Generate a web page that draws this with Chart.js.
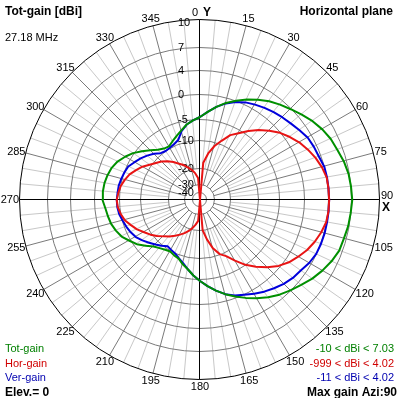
<!DOCTYPE html>
<html>
<head>
<meta charset="utf-8">
<script src="https://cdn.jsdelivr.net/npm/chart.js@4/dist/chart.umd.min.js"></script>
<style>
  html, body { margin: 0; padding: 0; background: #fff; }
  #wrap { width: 398px; height: 398px; position: relative; }
</style>
</head>
<body>
<div id="wrap"><canvas id="polar"></canvas></div>
<script>
// azimuth in degrees, clockwise from Y (top)
var angles = [0,5,10,15,20,25,30,35,40,45,50,55,60,65,70,75,80,85,
              90,95,100,105,110,115,120,125,130,135,140,145,150,155,160,165,170,175,
              180,185,190,195,200,205,210,215,220,225,230,235,240,245,250,255,260,265,
              270,275,280,285,290,295,300,305,310,315,320,325,330,335,340,345,350,355];

// gains in dBi
var totGain = [-4.4,-3.3,-2.1,-0.9,0.1,1.0,1.8,2.6,3.25,3.9,4.5,5.1,5.6,6.0,6.25,6.6,6.85,6.95,
               7.03,6.9,6.8,6.6,6.5,6.1,5.6,5.05,4.4,3.8,3.1,2.3,1.4,0.5,-0.45,-1.5,-2.6,-3.7,
               -4.8,-6.0,-7.3,-8.2,-9.2,-9.5,-9.9,-9.6,-9.1,-8.4,-7.1,-5.7,-4.7,-3.7,-3.1,-2.6,-2.3,-2.0,
               -1.5,-1.5,-1.6,-1.85,-2.2,-2.8,-3.7,-4.65,-6.0,-7.3,-8.4,-9.1,-9.3,-8.6,-7.8,-6.9,-5.8,-5.0];

var horGain = [-999,-17.7,-14.2,-11.1,-9.05,-7.0,-5.7,-4.15,-2.75,-1.4,-0.1,0.8,1.65,2.35,3.0,3.55,3.95,4.0,
               4.02,4.0,3.85,3.4,2.85,2.2,1.4,0.6,-0.5,-2.0,-3.6,-5.2,-7.4,-9.3,-10.5,-13.2,-16.8,-20.4,
               -999,-26.25,-23.75,-21.25,-19.3,-18.0,-16.8,-15.5,-14.1,-12.7,-11.1,-9.65,-8.7,-7.5,-6.55,-5.5,-4.9,-4.5,
               -4.35,-4.6,-4.9,-5.5,-6.2,-7.25,-8.2,-9.4,-10.5,-11.6,-13.0,-14.5,-16.1,-17.3,-18.75,-20.0,-22.5,-25.6];

var verGain = [-4.4,-3.3,-2.1,-1.0,-0.15,0.45,0.85,1.25,1.6,1.95,2.3,2.75,3.25,3.45,3.6,3.95,4.0,4.01,
               4.02,4.01,4.0,4.0,3.95,3.85,3.5,3.0,2.7,2.25,1.7,1.15,0.55,-0.1,-0.7,-1.5,-2.6,-3.7,
               -4.8,-6.0,-7.3,-8.5,-9.3,-10.0,-10.5,-10.9,-9.8,-9.05,-8.2,-7.3,-6.4,-5.85,-5.4,-5.0,-4.6,-4.4,
               -4.35,-4.45,-4.5,-4.7,-4.9,-5.2,-6.05,-6.8,-7.6,-8.5,-9.5,-9.8,-9.7,-9.4,-8.85,-7.1,-5.8,-5.0];

// radial scale: dB rings and where they sit on the +-180 axis
var ringDb = [10, 7, 4, 0, -5, -10, -20, -30, -40];
var ringRadius = [180, 152, 129, 105, 80, 59, 31, 15, 7];
var angleLabels = [0,15,30,45,60,75,90,105,120,135,150,165,180,195,210,225,240,255,270,285,300,315,330,345];

var seriesNames = ['Tot-gain', 'Hor-gain', 'Ver-gain'];
var freqText = '27.18 MHz';
var elevation = 0;

var FONT = "'Liberation Sans', Arial, sans-serif";

function dbToRadius(db) {
    var last = ringDb.length - 1;
    if (db <= ringDb[last]) {
        return Math.max(0, ringRadius[last] + (db - ringDb[last]) * 0.7);
    }
    for (var i = 0; i < last; i++) {
        if (db >= ringDb[i + 1]) {
            var t = (db - ringDb[i + 1]) / (ringDb[i] - ringDb[i + 1]);
            return ringRadius[i + 1] + t * (ringRadius[i] - ringRadius[i + 1]);
        }
    }
    return ringRadius[0];
}

function toPoints(values) {
    var pts = angles.map(function (a, i) {
        var r = dbToRadius(values[i]);
        var rad = a * Math.PI / 180;
        return { x: r * Math.sin(rad), y: r * Math.cos(rad) };
    });
    pts.push(pts[0]);
    return pts;
}

function rangeText(values) {
    var mn = Math.min.apply(null, values), mx = Math.max.apply(null, values);
    return Math.round(mn) + ' < dBi < ' + mx.toFixed(2);
}

var polarGrid = {
    id: 'polarGrid',
    beforeDraw: function (chart) {
        var ctx = chart.ctx;
        ctx.save();
        ctx.fillStyle = '#fff';
        ctx.fillRect(0, 0, chart.width, chart.height);
        ctx.restore();
    },
    beforeDatasetsDraw: function (chart) {
        var ctx = chart.ctx, xs = chart.scales.x, ys = chart.scales.y;
        var cx = xs.getPixelForValue(0), cy = ys.getPixelForValue(0);
        function pt(r, a) {
            var rad = a * Math.PI / 180;
            return { x: xs.getPixelForValue(r * Math.sin(rad)), y: ys.getPixelForValue(r * Math.cos(rad)) };
        }
        function spoke(a, r0, r1, color) {
            var p0 = pt(r0, a), p1 = pt(r1, a);
            ctx.strokeStyle = color;
            ctx.beginPath();
            ctx.moveTo(p0.x, p0.y);
            ctx.lineTo(p1.x, p1.y);
            ctx.stroke();
        }
        var outer = ringRadius[0];
        ctx.save();
        ctx.translate(-0.5, -0.5);
        ctx.lineWidth = 1;
        for (var a = 0; a < 360; a += 5) {
            if (a % 15 !== 0) spoke(a, ringRadius[6], outer, '#c8c8c8');
        }
        for (a = 0; a < 360; a += 15) {
            if (a % 90 !== 0) spoke(a, ringRadius[7], outer, '#7a7a7a');
        }
        ringRadius.forEach(function (r, i) {
            var rp = xs.getPixelForValue(r) - cx;
            ctx.strokeStyle = i === 0 ? '#000' : '#7a7a7a';
            ctx.beginPath();
            ctx.arc(cx, cy, rp, 0, Math.PI * 2);
            ctx.stroke();
        });
        spoke(0, -outer, outer, '#000');
        spoke(90, -outer, outer, '#000');
        ctx.restore();

        // ring values
        ctx.save();
        ctx.fillStyle = '#000';
        ctx.font = '11px ' + FONT;
        ctx.textAlign = 'left';
        ctx.textBaseline = 'middle';
        ringDb.forEach(function (db, i) {
            var y = ys.getPixelForValue(ringRadius[i]);
            ctx.fillText(String(db), cx - 22, Math.max(y, 23));
        });

        // azimuth labels
        ctx.textAlign = 'center';
        angleLabels.forEach(function (a) {
            var rad = a * Math.PI / 180;
            var p = pt(outer, a);
            var txt = String(a);
            var w = ctx.measureText(txt).width;
            if (a === 0) {
                ctx.textAlign = 'right';
                ctx.fillText(txt, p.x - 2, p.y - 7);
                ctx.textAlign = 'left';
                ctx.font = 'bold 12px ' + FONT;
                ctx.fillText('Y', p.x + 3, p.y - 7);
                ctx.font = '11px ' + FONT;
                ctx.textAlign = 'center';
                return;
            }
            var x = p.x + (w / 2 + 1) * Math.sin(rad);
            var y = p.y - 7 * Math.cos(rad);
            if (a === 90) {
                ctx.fillText(txt, x, y - 4);
                ctx.font = 'bold 12px ' + FONT;
                ctx.fillText('X', x - 1, y + 8);
                ctx.font = '11px ' + FONT;
                return;
            }
            ctx.fillText(txt, x, y);
        });
        ctx.restore();
    },
    afterDraw: function (chart) {
        var ctx = chart.ctx, W = chart.width;
        var mx = Math.max.apply(null, totGain);
        ctx.save();
        ctx.textBaseline = 'alphabetic';
        ctx.fillStyle = '#000';
        ctx.font = 'bold 12px ' + FONT;
        ctx.textAlign = 'left';
        ctx.fillText('Tot-gain [dBi]', 5, 15);
        ctx.fillText('Elev.= ' + elevation, 5, 396);
        ctx.textAlign = 'right';
        ctx.fillText('Horizontal plane', W - 5, 15);
        ctx.fillText('Max gain Azi:' + angles[totGain.indexOf(mx)], W - 1, 396);

        ctx.font = '11px ' + FONT;
        ctx.textAlign = 'left';
        ctx.fillText(freqText, 5, 41);
        var colors = ['#008000', '#d00000', '#0000b0'];
        var ranges = [rangeText(totGain), rangeText(horGain), rangeText(verGain)];
        var base = [352, 367, 381];
        for (var i = 0; i < 3; i++) {
            ctx.fillStyle = colors[i];
            ctx.textAlign = 'left';
            ctx.fillText(seriesNames[i], 5, base[i]);
            ctx.textAlign = 'right';
            ctx.fillText(ranges[i], W - 4, base[i]);
        }
        ctx.restore();
    }
};

new Chart(document.getElementById('polar'), {
    type: 'scatter',
    data: {
        datasets: [
            { label: seriesNames[1], data: toPoints(horGain), borderColor: '#e81414' },
            { label: seriesNames[0], data: toPoints(totGain), borderColor: '#009000' },
            { label: seriesNames[2], data: toPoints(verGain), borderColor: '#0000dc' }
        ].map(function (d) {
            d.showLine = true;
            d.pointRadius = 0;
            d.borderWidth = 2;
            d.borderJoinStyle = 'round';
            d.tension = 0;
            d.fill = false;
            return d;
        })
    },
    options: {
        responsive: true,
        maintainAspectRatio: false,
        animation: false,
        events: [],
        layout: { padding: { left: 20, right: 18, top: 20, bottom: 18 } },
        scales: {
            x: { type: 'linear', min: -180, max: 180, display: false },
            y: { type: 'linear', min: -180, max: 180, display: false }
        },
        plugins: { legend: { display: false }, tooltip: { enabled: false } }
    },
    plugins: [polarGrid]
});
</script>
</body>
</html>
